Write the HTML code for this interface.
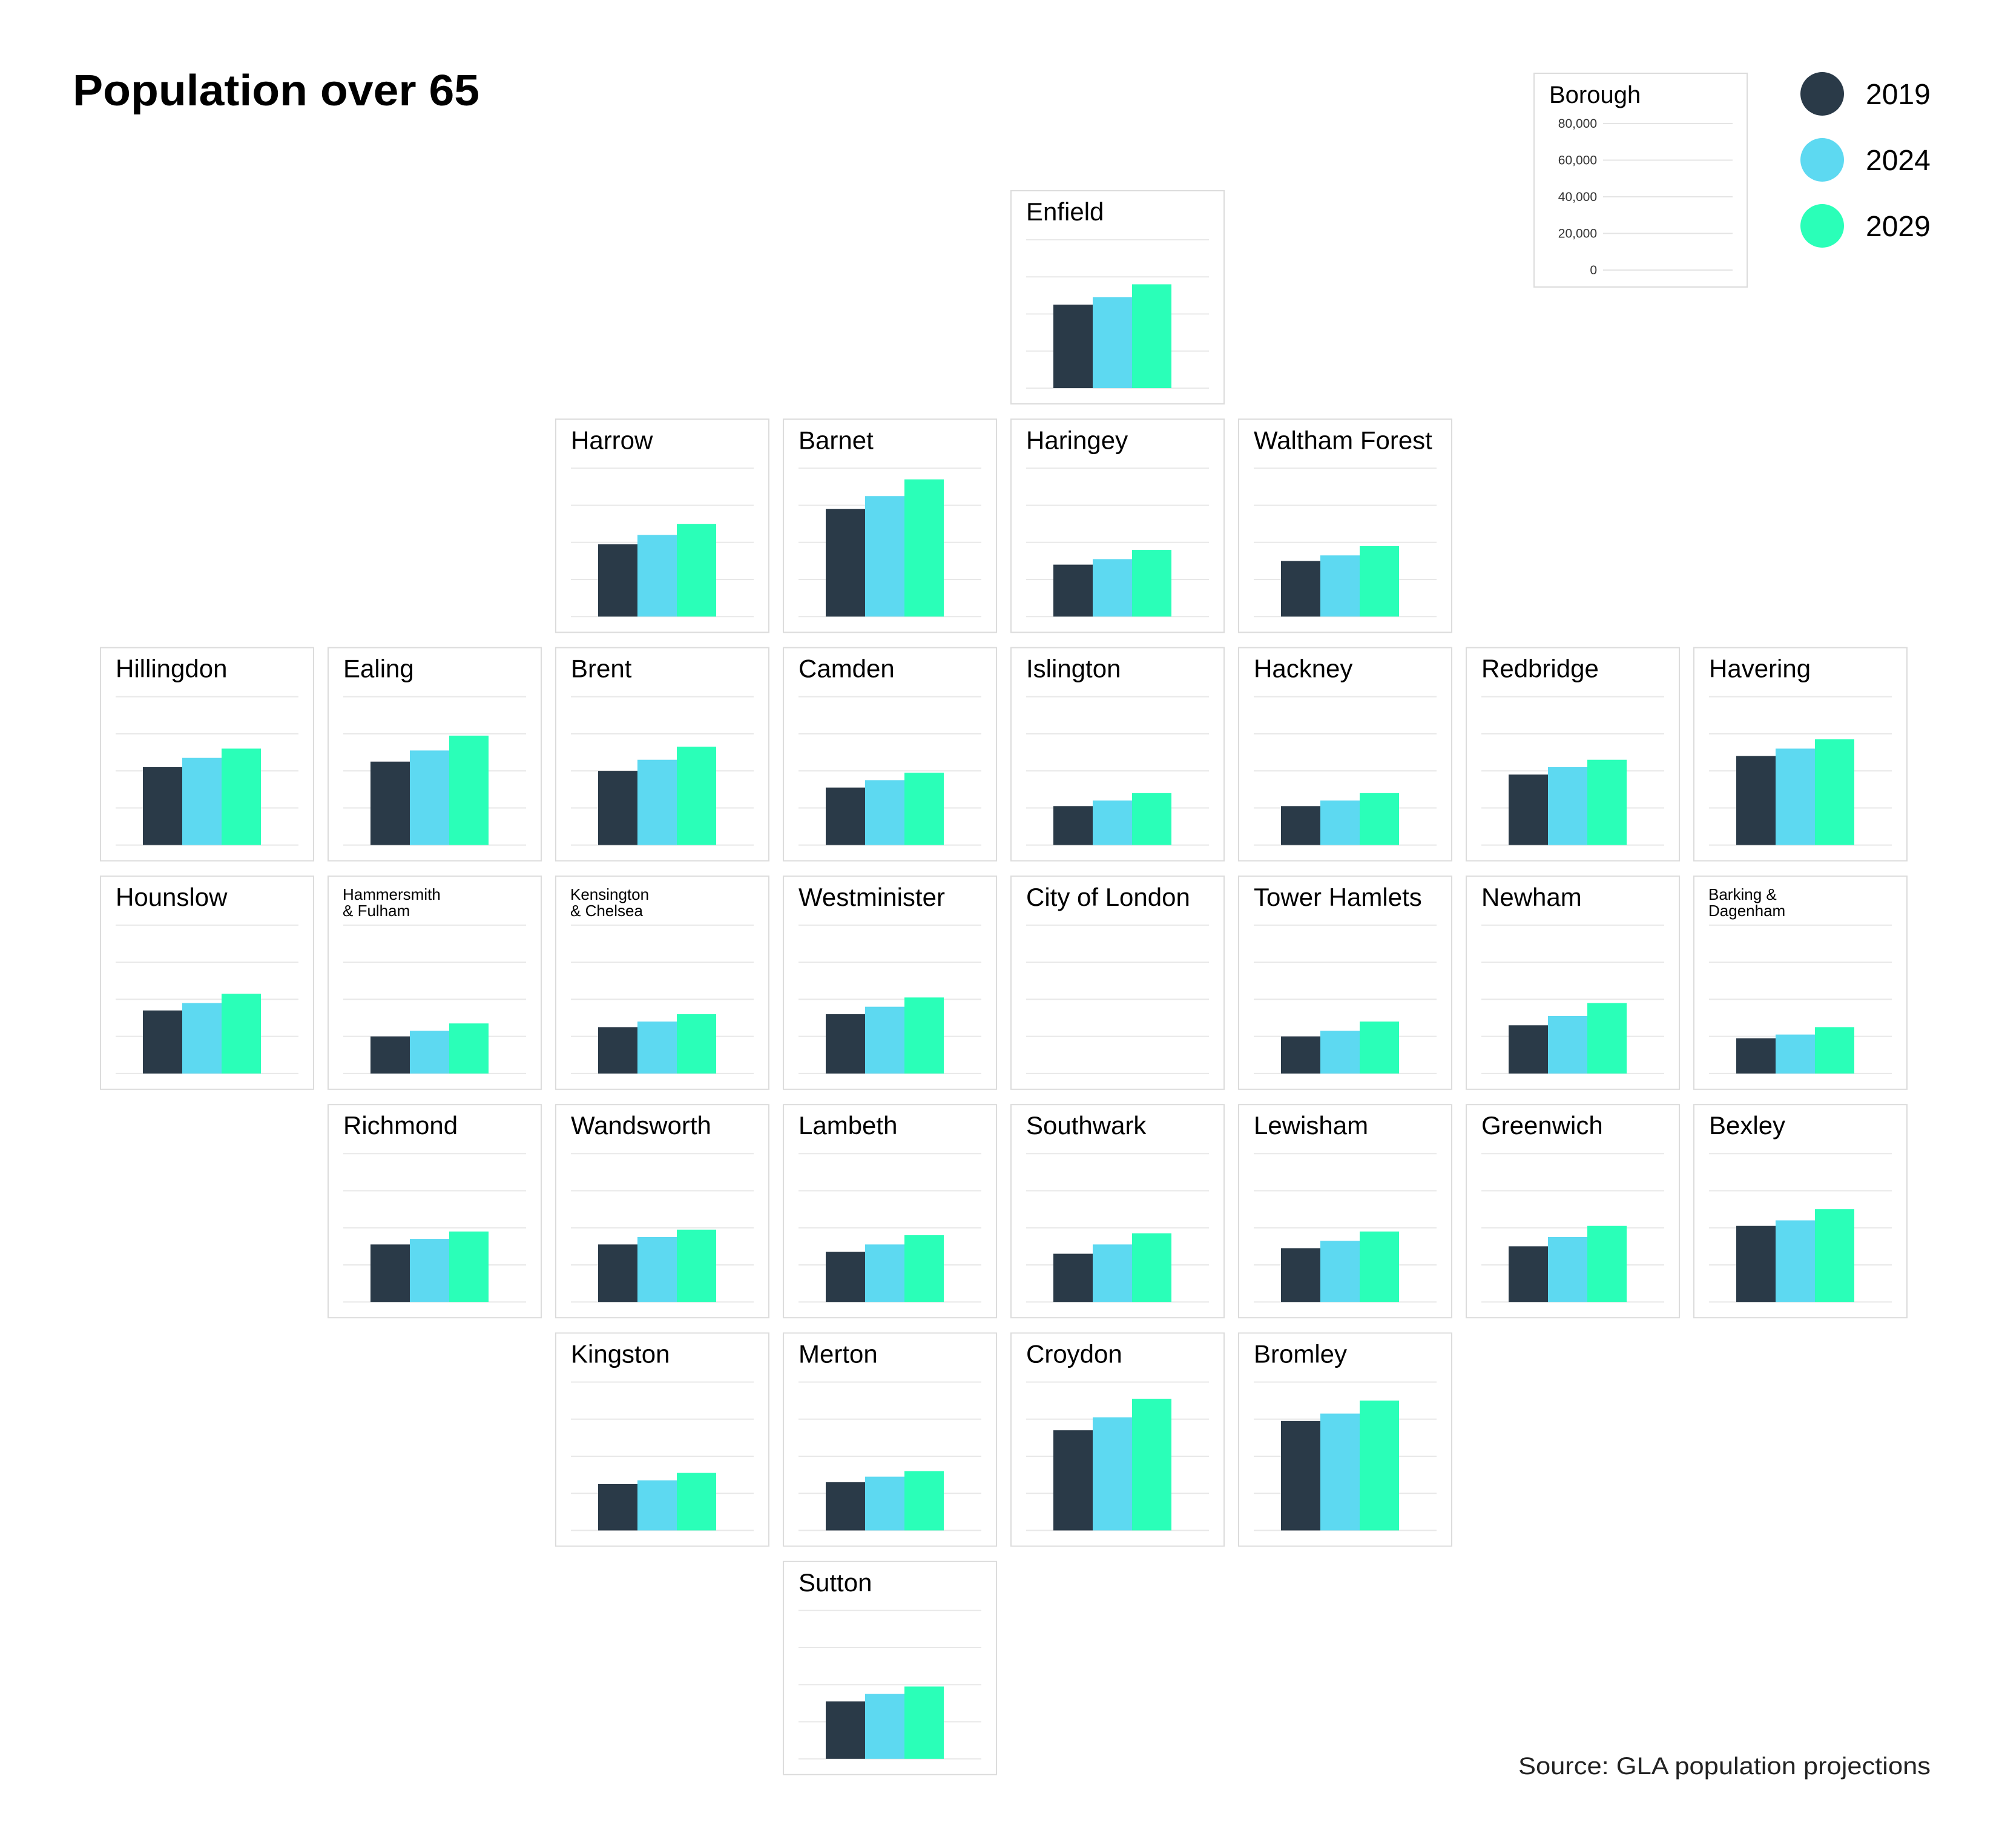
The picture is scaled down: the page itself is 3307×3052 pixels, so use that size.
<!DOCTYPE html>
<html><head><meta charset="utf-8"><style>
html,body{margin:0;padding:0;background:#fff;}
body{width:3307px;height:3047px;overflow:hidden;font-family:"Liberation Sans",sans-serif;}
</style></head><body>
<svg id="chart" width="3307" height="3047" xmlns="http://www.w3.org/2000/svg" font-family="Liberation Sans, sans-serif">
<text x="120" y="174" font-size="72" font-weight="bold" fill="#000" textLength="672" lengthAdjust="spacingAndGlyphs">Population over 65</text>
<g id="legend-box"></g>
<g id="legend"></g>
<g id="tiles"></g>
<text x="3189" y="2930" font-size="40" text-anchor="end" fill="#222" textLength="681" lengthAdjust="spacingAndGlyphs">Source: GLA population projections</text>
</svg>
<script>
const boroughs = ["Enfield","Harrow","Barnet","Haringey","Waltham Forest","Hillingdon","Ealing","Brent","Camden","Islington","Hackney","Redbridge","Havering","Hounslow","Hammersmith\n& Fulham","Kensington\n& Chelsea","Westminister","City of London","Tower Hamlets","Newham","Barking &\nDagenham","Richmond","Wandsworth","Lambeth","Southwark","Lewisham","Greenwich","Bexley","Kingston","Merton","Croydon","Bromley","Sutton"];
const cols = [4,2,3,4,5,0,1,2,3,4,5,6,7,0,1,2,3,4,5,6,7,1,2,3,4,5,6,7,2,3,4,5,3];
const rows = [0,1,1,1,1,2,2,2,2,2,2,2,2,3,3,3,3,3,3,3,3,4,4,4,4,4,4,4,5,5,5,5,6];
const years = ["2019","2024","2029"];
const v2019 = [45000,39000,58000,28000,30000,42000,45000,40000,31000,21000,21000,38000,48000,34000,20000,25000,32000,0,20000,26000,19000,31000,31000,27000,26000,29000,30000,41000,25000,26000,54000,59000,31000];
const v2024 = [49000,44000,65000,31000,33000,47000,51000,46000,35000,24000,24000,42000,52000,38000,23000,28000,36000,0,23000,31000,21000,34000,35000,31000,31000,33000,35000,44000,27000,29000,61000,63000,35000];
const v2029 = [56000,50000,74000,36000,38000,52000,59000,53000,39000,28000,28000,46000,57000,43000,27000,32000,41000,0,28000,38000,25000,38000,39000,36000,37000,38000,41000,50000,31000,32000,71000,70000,39000];
const ticks = [0,20000,40000,60000,80000];
const tickLabels = ["0","20,000","40,000","60,000","80,000"];
const colors = ["#2a3a48","#5dd9f1","#2affb8"];
const NS="http://www.w3.org/2000/svg";
function mk(tag,attrs,parent){const e=document.createElementNS(NS,tag);for(const k in attrs)e.setAttribute(k,attrs[k]);parent.appendChild(e);return e;}
const X0=165,Y0=314,PX=376,PY=377.3,TS=354;
const yScale=(v)=>327-v/80000*245;
const tilesG=document.getElementById('tiles');
const series=[v2019,v2024,v2029];
boroughs.forEach((name,i)=>{
  const tx=X0+cols[i]*PX, ty=Y0+rows[i]*PY;
  const g=mk('g',{transform:`translate(${tx},${ty})`},tilesG);
  
  
  const r=mk('rect',{x:1,y:1,width:TS-2,height:TS-2,fill:'#fff',stroke:'#dcdcdc','stroke-width':2},g);
  
  
  ticks.forEach(t=>{
    const l=mk('line',{x1:26,x2:328,y1:yScale(t),y2:yScale(t),stroke:'#e8e8e8','stroke-width':2},g);
    
    
  });
  const lines=name.split('\n');
  if(lines.length>1){
    lines.forEach((s,k)=>{const t=mk('text',{x:25,y:40+k*27,'font-size':26,fill:'#000'},g);t.textContent=s;
      
      });
  } else {
    const t=mk('text',{x:26,y:50,'font-size':42,fill:'#000'},g);t.textContent=name;
    
    
  }
  series.forEach((s,k)=>{
    if(!s[i])return;
    const y=yScale(s[i]);
    const b=mk('rect',{x:71+k*65,y:y,width:65,height:327-y,fill:colors[k]},g);
    
    
  });
});
// scale legend
const lb=document.getElementById('legend-box');
const br=mk('rect',{x:2534,y:121,width:352,height:353,fill:'#fff',stroke:'#dcdcdc','stroke-width':2},lb);


const bt=mk('text',{x:2559,y:170,'font-size':40,fill:'#000'},lb);bt.textContent='Borough';


const ly=(v)=>446-v/80000*242;
ticks.forEach((t,k)=>{
  const l=mk('line',{x1:2648,x2:2862,y1:ly(t),y2:ly(t),stroke:'#e4e4e4','stroke-width':2},lb);
  
  
  const tx=mk('text',{x:2638,y:ly(t)+7,'font-size':21,'text-anchor':'end',fill:'#333'},lb);tx.textContent=tickLabels[k];
  
  
});
// year legend
const lg=document.getElementById('legend');
years.forEach((y,k)=>{
  const cy=155+k*109;
  const c=mk('circle',{cx:3010,cy:cy,r:36,fill:colors[k]},lg);
  
  
  const t=mk('text',{x:3082,y:cy+17,'font-size':48,fill:'#000'},lg);t.textContent=y;
  
  
});
</script>
</body></html>
